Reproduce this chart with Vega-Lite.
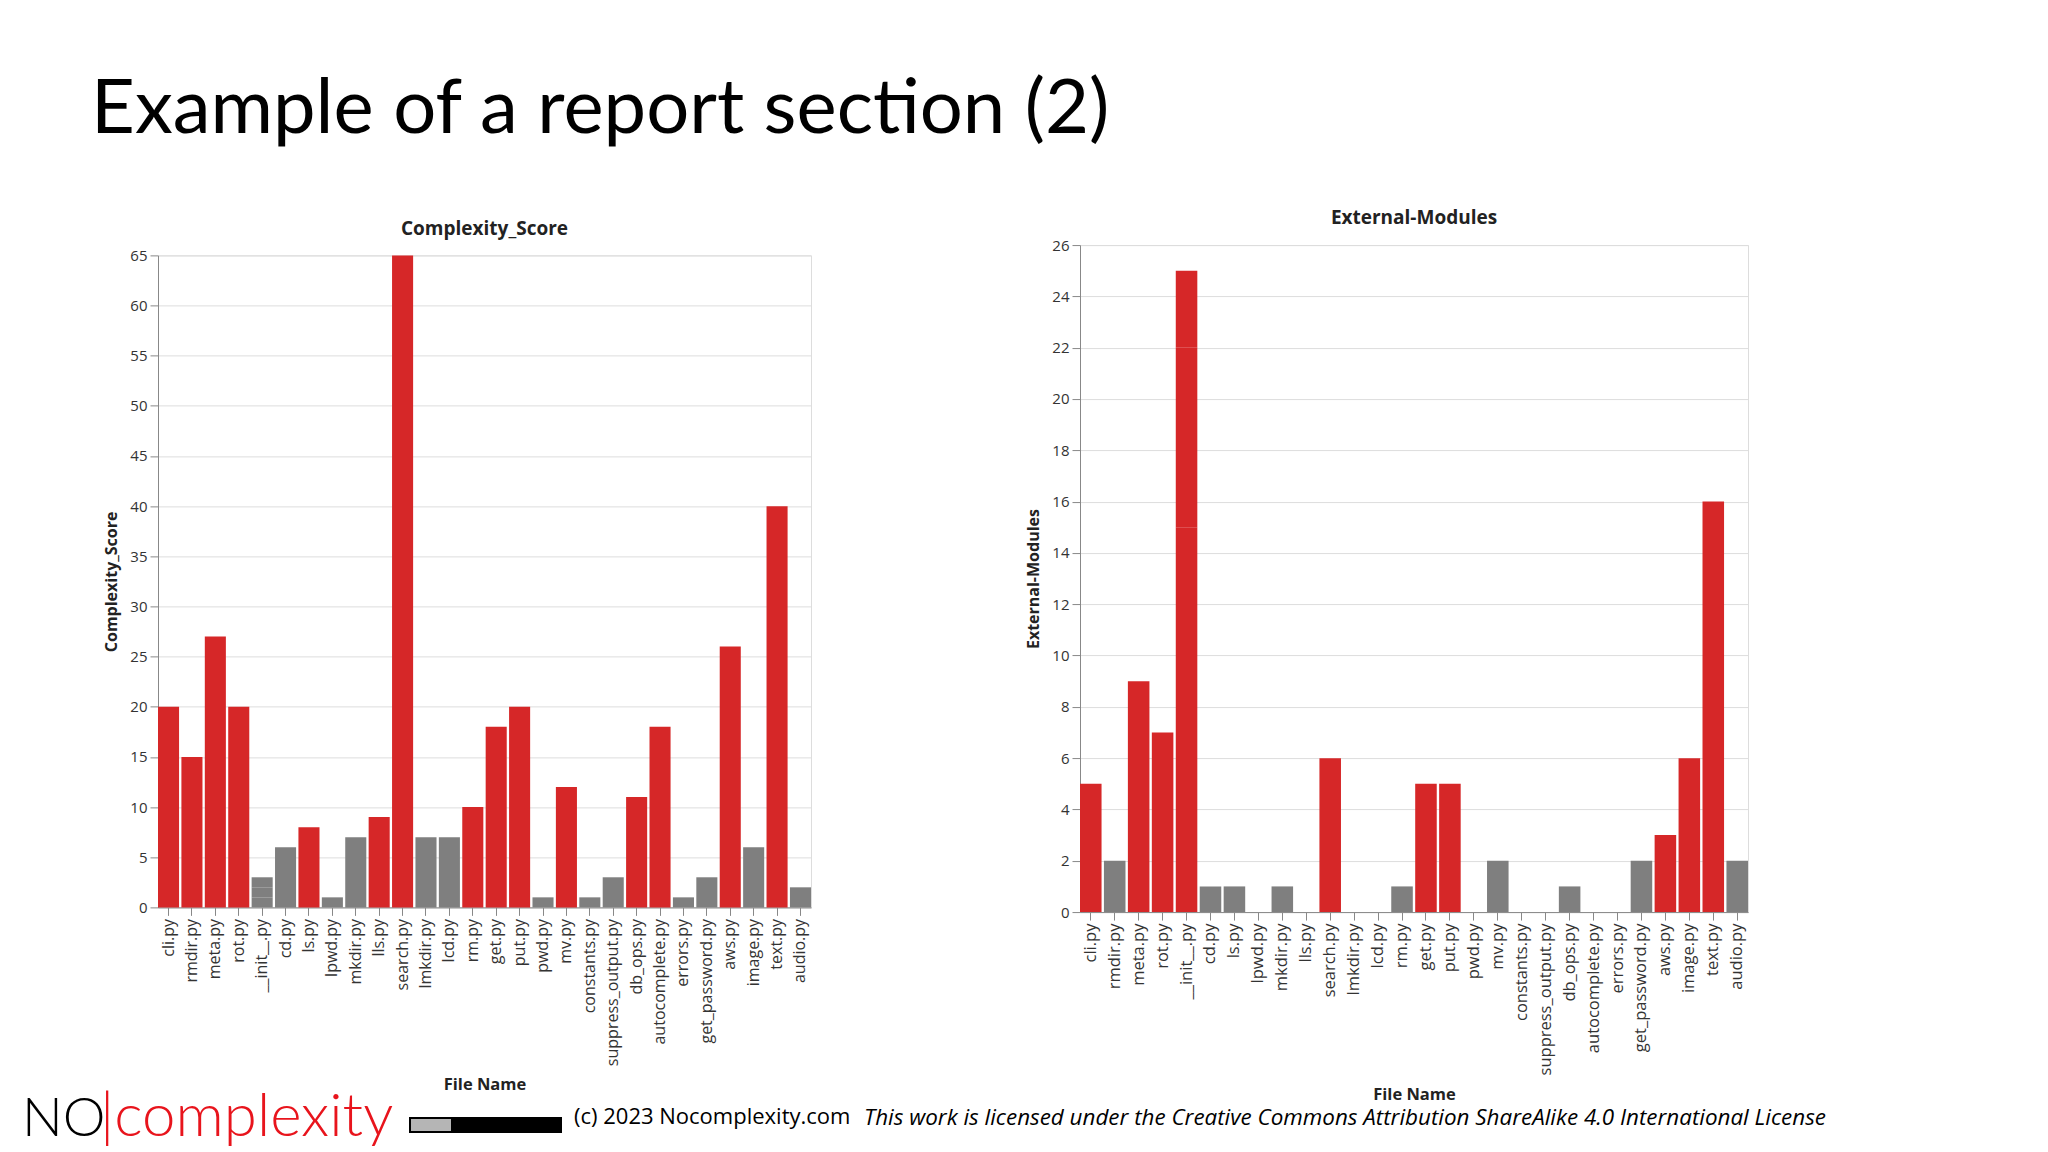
{
  "$schema": "https://vega.github.io/schema/vega-lite/v6.json",
  "background": "white",
  "padding": {"left": 22, "top": 71, "right": 0, "bottom": 0},
  "datasets": {
    "files": [
      {"File Name": "cli.py", "Complexity_Score": 20, "External-Modules": 5},
      {"File Name": "rmdir.py", "Complexity_Score": 15, "External-Modules": 2},
      {"File Name": "meta.py", "Complexity_Score": 27, "External-Modules": 9},
      {"File Name": "rot.py", "Complexity_Score": 20, "External-Modules": 7},
      {"File Name": "__init__.py", "Complexity_Score": 1, "External-Modules": 15},
      {"File Name": "__init__.py", "Complexity_Score": 1, "External-Modules": 7},
      {"File Name": "__init__.py", "Complexity_Score": 1, "External-Modules": 3},
      {"File Name": "cd.py", "Complexity_Score": 6, "External-Modules": 1},
      {"File Name": "ls.py", "Complexity_Score": 8, "External-Modules": 1},
      {"File Name": "lpwd.py", "Complexity_Score": 1, "External-Modules": 0},
      {"File Name": "mkdir.py", "Complexity_Score": 7, "External-Modules": 1},
      {"File Name": "lls.py", "Complexity_Score": 9, "External-Modules": 0},
      {"File Name": "search.py", "Complexity_Score": 65, "External-Modules": 6},
      {"File Name": "lmkdir.py", "Complexity_Score": 7, "External-Modules": 0},
      {"File Name": "lcd.py", "Complexity_Score": 7, "External-Modules": 0},
      {"File Name": "rm.py", "Complexity_Score": 10, "External-Modules": 1},
      {"File Name": "get.py", "Complexity_Score": 18, "External-Modules": 5},
      {"File Name": "put.py", "Complexity_Score": 20, "External-Modules": 5},
      {"File Name": "pwd.py", "Complexity_Score": 1, "External-Modules": 0},
      {"File Name": "mv.py", "Complexity_Score": 12, "External-Modules": 2},
      {"File Name": "constants.py", "Complexity_Score": 1, "External-Modules": 0},
      {"File Name": "suppress_output.py", "Complexity_Score": 3, "External-Modules": 0},
      {"File Name": "db_ops.py", "Complexity_Score": 11, "External-Modules": 1},
      {"File Name": "autocomplete.py", "Complexity_Score": 18, "External-Modules": 0},
      {"File Name": "errors.py", "Complexity_Score": 1, "External-Modules": 0},
      {"File Name": "get_password.py", "Complexity_Score": 3, "External-Modules": 2},
      {"File Name": "aws.py", "Complexity_Score": 26, "External-Modules": 3},
      {"File Name": "image.py", "Complexity_Score": 6, "External-Modules": 6},
      {"File Name": "text.py", "Complexity_Score": 40, "External-Modules": 16},
      {"File Name": "audio.py", "Complexity_Score": 2, "External-Modules": 2}
    ]
  },
  "title": {
    "text": "Example of a report section (2)",
    "anchor": "start",
    "font": "Lato",
    "fontSize": 76,
    "fontWeight": "normal",
    "color": "#000000",
    "dx": 69,
    "offset": 60
  },
  "config": {
    "view": {"stroke": null},
    "font": "Open Sans",
    "axis": {
      "labelFont": "Open Sans",
      "labelFontSize": 15,
      "labelColor": "#333333",
      "titleFont": "Open Sans",
      "titleFontSize": 16,
      "titleFontWeight": "bold",
      "titleColor": "#222222",
      "tickSize": 8,
      "labelPadding": 3,
      "domainColor": "#888888",
      "tickColor": "#888888",
      "gridColor": "#dddddd"
    }
  },
  "vconcat": [
    {
      "title": {"text": "This work is licensed under the Creative Commons Attribution ShareAlike 4.0 International License", "orient": "bottom", "anchor": "start", "frame": "bounds", "dx": 842, "offset": -41, "font": "Open Sans", "fontSize": 22.4, "fontStyle": "italic", "fontWeight": "normal", "color": "#000000"},
      "vconcat": [
        {
          "title": {"text": "(c) 2023 Nocomplexity.com", "orient": "bottom", "anchor": "start", "frame": "bounds", "dx": 552, "offset": -41, "font": "Open Sans", "fontSize": 22, "fontWeight": "normal", "color": "#000000"},
          "vconcat": [
            {
              "title": {"text": "|complexity", "orient": "bottom", "anchor": "start", "frame": "bounds", "dx": 78, "offset": -58, "font": "Lato", "fontSize": 60, "fontWeight": 300, "color": "#e8141c"},
              "vconcat": [
                {
                  "title": {"text": "NO", "orient": "bottom", "anchor": "start", "frame": "bounds", "dx": 0, "offset": -40, "font": "Lato", "fontSize": 54, "fontWeight": 300, "color": "#000000"},
                  "spacing": 13,
                  "vconcat": [
                    {
                      "spacing": 0,
                      "hconcat": [
                        {
                          "width": 81,
                          "height": 1,
                          "data": {"values": []},
                          "mark": {"type": "text"},
                          "encoding": {}
                        },
                        {
                          "spacing": 213,
                          "center": true,
                          "hconcat": [
                            {
                              "data": {"name": "files"},
                              "width": 653,
                              "height": 652,
                              "view": {"stroke": "#dddddd"},
                              "title": {"text": "Complexity_Score", "font": "Open Sans", "fontSize": 19, "fontWeight": "bold", "color": "#222222", "offset": 9},
                              "mark": {"type": "bar"},
                              "encoding": {
                                "x": {
                                  "field": "File Name",
                                  "type": "nominal",
                                  "sort": null,
                                  "title": "File Name",
                                  "scale": {"paddingInner": 0.1, "paddingOuter": 0},
                                  "axis": {"labelAngle": -90, "titlePadding": 11, "titleFontSize": 16.5, "labelFontSize": 16}
                                },
                                "y": {
                                  "field": "Complexity_Score",
                                  "type": "quantitative",
                                  "stack": "zero",
                                  "title": "Complexity_Score",
                                  "scale": {"domain": [0, 65], "nice": false},
                                  "axis": {"values": [0, 5, 10, 15, 20, 25, 30, 35, 40, 45, 50, 55, 60, 65], "titlePadding": 10}
                                },
                                "color": {
                                  "condition": {"test": "datum['Complexity_Score'] > 7", "value": "#d62728"},
                                  "value": "#7f7f7f"
                                }
                              }
                            },
                            {
                              "data": {"name": "files"},
                              "width": 668,
                              "height": 667,
                              "view": {"stroke": "#dddddd"},
                              "title": {"text": "External-Modules", "font": "Open Sans", "fontSize": 19, "fontWeight": "bold", "color": "#222222", "offset": 10},
                              "mark": {"type": "bar"},
                              "encoding": {
                                "x": {
                                  "field": "File Name",
                                  "type": "nominal",
                                  "sort": null,
                                  "title": "File Name",
                                  "scale": {"paddingInner": 0.1, "paddingOuter": 0},
                                  "axis": {"labelAngle": -90, "titlePadding": 12, "titleFontSize": 16.5, "labelFontSize": 16.5}
                                },
                                "y": {
                                  "field": "External-Modules",
                                  "type": "quantitative",
                                  "stack": "zero",
                                  "title": "External-Modules",
                                  "scale": {"domain": [0, 26], "nice": false},
                                  "axis": {"values": [0, 2, 4, 6, 8, 10, 12, 14, 16, 18, 20, 22, 24, 26], "titlePadding": 10}
                                },
                                "color": {
                                  "condition": {"test": "datum['External-Modules'] > 2", "value": "#d62728"},
                                  "value": "#7f7f7f"
                                }
                              }
                            }
                          ]
                        }
                      ]
                    },
                    {
                      "spacing": 0,
                      "hconcat": [
                        {
                          "width": 387,
                          "height": 1,
                          "data": {"values": []},
                          "mark": {"type": "text"},
                          "encoding": {}
                        },
                        {
                          "width": 42,
                          "height": 14,
                          "data": {"values": []},
                          "mark": {"type": "text"},
                          "encoding": {},
                          "view": {"fill": "#b5b5b5", "stroke": "#000000", "strokeWidth": 2}
                        },
                        {
                          "width": 107,
                          "height": 14,
                          "data": {"values": []},
                          "mark": {"type": "text"},
                          "encoding": {},
                          "view": {"fill": "#000000", "stroke": "#000000", "strokeWidth": 2}
                        }
                      ]
                    }
                  ]
                }
              ]
            }
          ]
        }
      ]
    }
  ]
}
